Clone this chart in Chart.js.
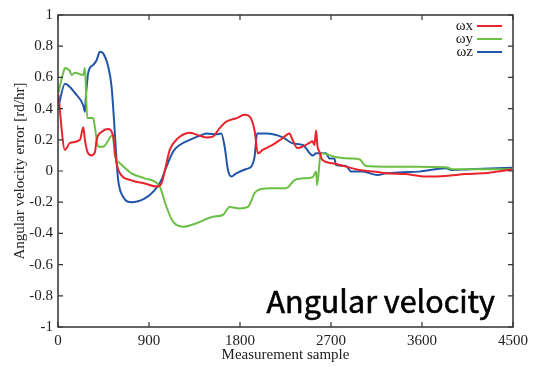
<!DOCTYPE html>
<html>
<head>
<meta charset="utf-8">
<script src="https://cdn.jsdelivr.net/npm/chart.js@4"></script>
<style>
    html, body { margin: 0; padding: 0; background: #ffffff; }
    canvas { display: block; }
</style>
</head>
<body>
<canvas id="velocityChart" width="533" height="367"></canvas>
<script>
// Series values (sample index, error in rd/hr)
const wxSamples = [3, 69, 118, 217, 250, 266, 296, 333, 365, 382, 431, 493, 543, 579, 612, 727, 859, 974, 1023, 1056, 1105, 1171, 1303, 1382, 1467, 1530, 1599, 1665, 1763, 1845, 1895, 1944, 1977, 2023, 2122, 2220, 2289, 2319, 2368, 2418, 2487, 2516, 2536, 2553, 2566, 2585, 2615, 2714, 2849, 2980, 3145, 3244, 3441, 3638, 3836, 4033, 4194, 4329, 4490];
const wxValues = [0.49, 0.135, 0.18, 0.20, 0.28, 0.20, 0.115, 0.10, 0.12, 0.20, 0.25, 0.27, 0.23, 0.05, -0.015, -0.06, -0.08, -0.10, -0.08, 0.0, 0.135, 0.20, 0.245, 0.23, 0.215, 0.22, 0.275, 0.316, 0.338, 0.36, 0.35, 0.26, 0.113, 0.135, 0.167, 0.21, 0.24, 0.20, 0.147, 0.156, 0.18, 0.19, 0.167, 0.26, 0.16, 0.124, 0.07, 0.05, 0.028, 0.006, -0.005, -0.015, -0.02, -0.036, -0.032, -0.02, -0.015, -0.005, 0.01];

const wySamples = [3, 52, 69, 118, 135, 168, 250, 266, 289, 348, 365, 398, 444, 543, 562, 612, 727, 859, 957, 1007, 1073, 1138, 1236, 1369, 1532, 1631, 1697, 1796, 1878, 1944, 1977, 2092, 2257, 2339, 2421, 2519, 2553, 2563, 2595, 2618, 2733, 2881, 2980, 3046, 3244, 3540, 3836, 3902, 4490];
const wyValues = [0.50, 0.63, 0.66, 0.64, 0.615, 0.63, 0.615, 0.66, 0.34, 0.34, 0.28, 0.156, 0.156, 0.23, 0.10, 0.05, -0.015, -0.047, -0.068, -0.10, -0.23, -0.325, -0.357, -0.335, -0.293, -0.282, -0.23, -0.24, -0.23, -0.143, -0.122, -0.11, -0.11, -0.058, -0.047, -0.04, -0.004, -0.09, 0.10, 0.113, 0.092, 0.08, 0.075, 0.032, 0.028, 0.028, 0.024, 0.011, 0.011];

const wzSamples = [3, 69, 168, 250, 266, 276, 299, 348, 382, 414, 447, 496, 530, 556, 579, 595, 644, 727, 859, 957, 1023, 1056, 1073, 1138, 1204, 1303, 1418, 1467, 1566, 1615, 1648, 1681, 1714, 1763, 1862, 1911, 1944, 1969, 2059, 2223, 2322, 2421, 2519, 2553, 2618, 2651, 2684, 2733, 2750, 2849, 2898, 3013, 3161, 3244, 3408, 3572, 3836, 3902, 4066, 4490];
const wzValues = [0.41, 0.56, 0.50, 0.42, 0.38, 0.48, 0.63, 0.68, 0.71, 0.765, 0.754, 0.67, 0.54, 0.306, 0.07, -0.058, -0.165, -0.20, -0.175, -0.122, -0.058, 0.0, 0.028, 0.124, 0.167, 0.20, 0.23, 0.24, 0.235, 0.24, 0.156, 0.006, -0.036, -0.015, 0.013, 0.028, 0.09, 0.24, 0.24, 0.216, 0.177, 0.167, 0.10, 0.113, 0.113, 0.113, 0.08, 0.08, 0.038, 0.032, -0.004, -0.004, -0.026, -0.015, -0.008, -0.004, 0.017, 0.006, 0.011, 0.021];

const seriesNames = ['\u03c9x', '\u03c9y', '\u03c9z'];
const seriesColours = ['#e8232b', '#6cbf45', '#2255a8'];
const xTickLabels = ['0', '900', '1800', '2700', '3600', '4500'];
const yTickLabels = ['1', '0.8', '0.6', '0.4', '0.2', '0', '-0.2', '-0.4', '-0.6', '-0.8', '-1'];

const serifFont = '"Liberation Serif", "Times New Roman", serif';

function toPoints(xs, ys) {
    return xs.map((x, i) => ({ x: x, y: ys[i] }));
}

// Inward tick marks, frame, legend and the big caption
const framePlugin = {
    id: 'frame',
    afterDraw(chart) {
        const ctx = chart.ctx;
        const area = chart.chartArea;
        const xScale = chart.scales.x;
        const yScale = chart.scales.y;
        ctx.save();
        ctx.strokeStyle = '#333333';
        ctx.lineWidth = 1.5;
        ctx.strokeRect(area.left, area.top, area.right - area.left, area.bottom - area.top);

        ctx.lineWidth = 1.2;
        ctx.beginPath();
        xScale.ticks.forEach(tick => {
            const px = xScale.getPixelForValue(tick.value);
            ctx.moveTo(px, area.bottom);
            ctx.lineTo(px, area.bottom - 5);
            ctx.moveTo(px, area.top);
            ctx.lineTo(px, area.top + 5);
        });
        yScale.ticks.forEach(tick => {
            const py = yScale.getPixelForValue(tick.value);
            ctx.moveTo(area.left, py);
            ctx.lineTo(area.left + 5, py);
            ctx.moveTo(area.right, py);
            ctx.lineTo(area.right - 5, py);
        });
        ctx.stroke();

        // legend
        ctx.font = '15px ' + serifFont;
        ctx.textAlign = 'right';
        ctx.textBaseline = 'middle';
        chart.data.datasets.forEach((ds, i) => {
            const y = area.top + 11 + i * 13;
            ctx.fillStyle = '#222222';
            ctx.fillText(ds.label, area.right - 40, y);
            ctx.strokeStyle = ds.borderColor;
            ctx.lineWidth = 2;
            ctx.beginPath();
            ctx.moveTo(area.right - 36, y);
            ctx.lineTo(area.right - 11, y);
            ctx.stroke();
        });

        // caption
        ctx.font = '30.5px "Noto Sans CJK JP", "Noto Sans", sans-serif';
        ctx.textAlign = 'right';
        ctx.textBaseline = 'alphabetic';
        ctx.fillStyle = '#000000';
        ctx.strokeStyle = '#000000';
        ctx.lineWidth = 0.6;
        ctx.fillText('Angular velocity', area.right - 18, area.bottom - 14);
        ctx.strokeText('Angular velocity', area.right - 18, area.bottom - 14);
        ctx.restore();
    }
};

const ctx = document.getElementById('velocityChart').getContext('2d');
const velocityChart = new Chart(ctx, {
    type: 'line',
    data: {
        datasets: [
            { label: seriesNames[0], data: toPoints(wxSamples, wxValues), borderColor: seriesColours[0] },
            { label: seriesNames[1], data: toPoints(wySamples, wyValues), borderColor: seriesColours[1] },
            { label: seriesNames[2], data: toPoints(wzSamples, wzValues), borderColor: seriesColours[2] }
        ]
    },
    options: {
        responsive: false,
        animation: false,
        devicePixelRatio: 1,
        layout: { padding: { left: 0, top: 15, right: 19, bottom: 0 } },
        elements: {
            point: { radius: 0 },
            line: { borderWidth: 2, cubicInterpolationMode: 'monotone', fill: false }
        },
        scales: {
            x: {
                type: 'linear',
                min: 0,
                max: 4500,
                grid: { display: false, drawTicks: false },
                border: { display: false },
                afterFit: scale => { scale.height = 40; },
                afterBuildTicks: scale => {
                    scale.ticks = xTickLabels.map(v => ({ value: Number(v) }));
                },
                ticks: {
                    padding: 5,
                    color: '#222222',
                    font: { family: serifFont, size: 15 },
                    callback: (value, index) => xTickLabels[index]
                },
                title: {
                    display: true,
                    text: 'Measurement sample',
                    color: '#222222',
                    font: { family: serifFont, size: 15 },
                    padding: { top: 0, bottom: 3 }
                }
            },
            y: {
                type: 'linear',
                min: -1,
                max: 1,
                grid: { display: false, drawTicks: false },
                border: { display: false },
                afterFit: scale => { scale.width = 58; },
                afterBuildTicks: scale => {
                    scale.ticks = yTickLabels.map(v => ({ value: Number(v) }));
                },
                ticks: {
                    padding: 5,
                    color: '#222222',
                    font: { family: serifFont, size: 15 },
                    callback: (value, index) => yTickLabels[index]
                },
                title: {
                    display: true,
                    text: 'Angular velocity error [rd/hr]',
                    color: '#222222',
                    font: { family: serifFont, size: 15 },
                    padding: { top: 11, bottom: 0 }
                }
            }
        },
        plugins: {
            legend: { display: false },
            tooltip: { enabled: false }
        }
    },
    plugins: [framePlugin]
});
</script>
</body>
</html>
